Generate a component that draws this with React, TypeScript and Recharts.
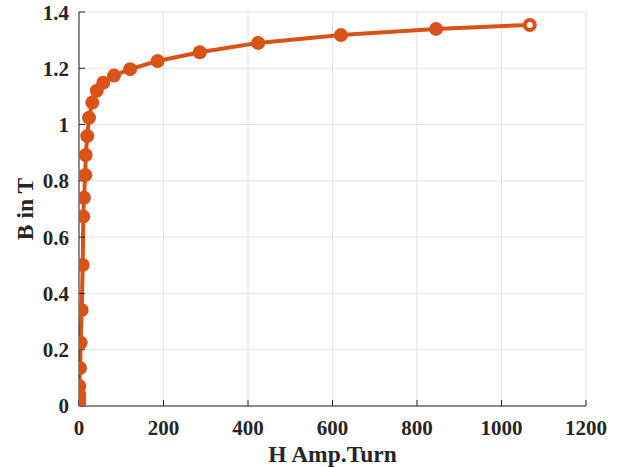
import { LineChart, Line, XAxis, YAxis, CartesianGrid } from "recharts";

// B-H magnetisation curve
const hValues = [
  0, 0.3, 0.5, 0.6, 0.7, 2.4, 4, 6.4, 8.8, 10.2, 11.8, 14.9, 15.9, 19.6, 23.7,
  31.5, 42, 57.5, 83, 121, 186, 286, 424, 620, 845, 1067,
];
const bValues = [
  0, 0.012, 0.025, 0.04, 0.071, 0.135, 0.225, 0.341, 0.501, 0.673, 0.74, 0.821,
  0.892, 0.959, 1.024, 1.078, 1.12, 1.149, 1.174, 1.197, 1.226, 1.257, 1.29,
  1.318, 1.34, 1.354,
];
const xTicks = [0, 200, 400, 600, 800, 1000, 1200];
const yTicks = [0, 0.2, 0.4, 0.6, 0.8, 1, 1.2, 1.4];

const ORANGE = "#D95319";
const AXIS = "#262626";
const FONT = "'Liberation Serif', 'Times New Roman', serif";

const data = hValues.map((h, i) => ({ h, b: bValues[i] }));

const tickStyle = {
  fontSize: 21,
  fontWeight: 700,
  fontFamily: FONT,
  fill: AXIS,
};

const labelStyle = {
  fontSize: 23.5,
  fontWeight: 700,
  fontFamily: FONT,
  fill: AXIS,
};

function Dot(props: any) {
  const { cx, cy, index } = props;
  if (cx == null || cy == null) return null;
  if (index === data.length - 1) {
    return (
      <circle
        key={index}
        cx={cx}
        cy={cy}
        r={5}
        fill="#fff"
        stroke={ORANGE}
        strokeWidth={4}
      />
    );
  }
  return <circle key={index} cx={cx} cy={cy} r={7} fill={ORANGE} />;
}

const noLabel = () => <g />;

export default function App() {
  return (
    <div
      style={{
        position: "absolute",
        left: 0,
        top: 0,
        width: 626,
        height: 467,
        background: "#fff",
      }}
    >
      <LineChart
        width={626}
        height={467}
        data={data}
        margin={{ top: 12, right: 40, bottom: 0, left: 0 }}
      >
        <CartesianGrid stroke="#e3e3e3" strokeWidth={1} />
        <XAxis
          dataKey="h"
          type="number"
          domain={[0, 1200]}
          ticks={xTicks}
          allowDataOverflow
          height={61}
          stroke={AXIS}
          tickSize={-6}
          tickMargin={20}
          tick={tickStyle}
          label={{
            value: "H Amp.Turn",
            position: "insideBottom",
            offset: 5,
            style: labelStyle,
          }}
        />
        <XAxis
          xAxisId="top"
          orientation="top"
          type="number"
          domain={[0, 1200]}
          ticks={xTicks}
          allowDataOverflow
          height={0}
          stroke={AXIS}
          tickSize={-6}
          tick={noLabel}
        />
        <YAxis
          type="number"
          domain={[0, 1.4]}
          ticks={yTicks}
          allowDataOverflow
          width={79}
          stroke={AXIS}
          tickSize={-6}
          tickMargin={16}
          tick={tickStyle}
          label={{
            value: "B in T",
            angle: -90,
            position: "insideLeft",
            offset: 25,
            style: { ...labelStyle, textAnchor: "middle" },
          }}
        />
        <YAxis
          yAxisId="right"
          orientation="right"
          type="number"
          domain={[0, 1.4]}
          ticks={yTicks}
          allowDataOverflow
          width={0}
          stroke={AXIS}
          tickSize={-6}
          tick={noLabel}
        />
        <Line
          dataKey="b"
          type="linear"
          stroke={ORANGE}
          strokeWidth={4}
          dot={Dot}
          activeDot={false}
          isAnimationActive={false}
        />
      </LineChart>
    </div>
  );
}
